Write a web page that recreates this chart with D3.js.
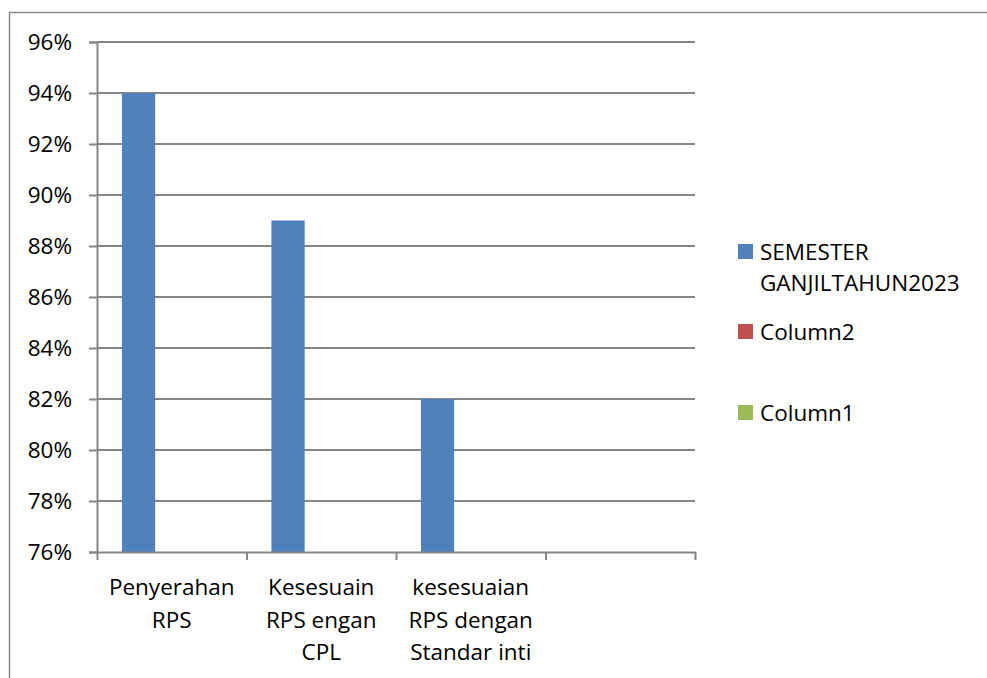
<!DOCTYPE html>
<html>
<head>
<meta charset="utf-8">
<script src="https://cdn.jsdelivr.net/npm/d3@7"></script>
<style>
  html, body { margin: 0; padding: 0; background: #fff; }
  svg { display: block; font-family: "Open Sans", "Noto Sans", sans-serif; }
</style>
</head>
<body>
<div id="chart"></div>
<script>
// categories (4th slot is empty in the source)
var categories = [
  ["Penyerahan", "RPS"],
  ["Kesesuain", "RPS engan", "CPL"],
  ["kesesuaian", "RPS dengan", "Standar inti"],
  []
];
var seriesNames = ["SEMESTER GANJILTAHUN2023", "Column2", "Column1"];
var seriesLabels = [["SEMESTER", "GANJILTAHUN2023"], ["Column2"], ["Column1"]];
var seriesColors = ["#4F81BD", "#C0504D", "#9BBB59"];
// values per series, one per category (null = no data)
var semesterGanjil = [0.94, 0.89, 0.82, null];
var column2 = [null, null, null, null];
var column1 = [null, null, null, null];
var yTicks = [0.76, 0.78, 0.80, 0.82, 0.84, 0.86, 0.88, 0.90, 0.92, 0.94, 0.96];

var W = 987, H = 678;
var plotL = 97, plotR = 695, plotT = 42, plotB = 552;

var svg = d3.select("#chart").append("svg")
  .attr("width", W).attr("height", H);

// outer chart frame (runs off the right and bottom edges)
svg.append("rect")
  .attr("x", 9.5).attr("y", 12.5)
  .attr("width", W + 20).attr("height", H + 20)
  .attr("fill", "none").attr("stroke", "#8c8c8c").attr("stroke-width", 1.5);

var y = d3.scaleLinear().domain([0.76, 0.96]).range([plotB, plotT]);
var x = d3.scaleBand().domain(d3.range(categories.length))
  .range([plotL, plotR]).paddingInner(0).paddingOuter(0);
var xs = d3.scaleBand().domain(d3.range(seriesNames.length))
  .range([0, x.bandwidth()]).paddingInner(0).paddingOuter(0.75);
var xEdge = d3.scaleLinear().domain([0, categories.length]).range([plotL, plotR]);

// gridlines
svg.append("g").selectAll("line")
  .data(yTicks.slice(1))
  .enter().append("line")
  .attr("x1", plotL).attr("x2", plotR)
  .attr("y1", function (d) { return y(d); })
  .attr("y2", function (d) { return y(d); })
  .attr("stroke", "#868686").attr("stroke-width", 2);

// bars
var allSeries = [semesterGanjil, column2, column1];
allSeries.forEach(function (vals, s) {
  svg.append("g").selectAll("rect")
    .data(vals.map(function (v, i) { return { i: i, v: v }; })
      .filter(function (d) { return d.v != null; }))
    .enter().append("rect")
    .attr("x", function (d) { return x(d.i) + xs(s); })
    .attr("width", xs.bandwidth())
    .attr("y", function (d) { return y(d.v); })
    .attr("height", function (d) { return plotB - y(d.v); })
    .attr("fill", seriesColors[s]);
});

// y axis
var yAxis = svg.append("g")
  .attr("transform", "translate(" + plotL + ",0)")
  .call(d3.axisLeft(y).tickValues(yTicks).tickFormat(d3.format(".0%"))
    .tickSize(8).tickPadding(17));
yAxis.select(".domain").attr("stroke", "#868686").attr("stroke-width", 2);
yAxis.selectAll(".tick line").attr("stroke", "#868686").attr("stroke-width", 2);
yAxis.selectAll(".tick text")
  .attr("font-size", "22.5px").attr("fill", "#000")
  .attr("font-family", "'Open Sans', sans-serif");

// x axis (ticks at category boundaries)
var xAxis = svg.append("g")
  .attr("transform", "translate(0," + plotB + ")")
  .call(d3.axisBottom(xEdge).tickValues(d3.range(categories.length + 1))
    .tickFormat("").tickSize(8).tickSizeOuter(0));
xAxis.select(".domain").attr("stroke", "#868686").attr("stroke-width", 2);
xAxis.selectAll(".tick line").attr("stroke", "#868686").attr("stroke-width", 2);

// category labels
svg.append("g").selectAll("text")
  .data(categories)
  .enter().append("text")
  .attr("x", function (d, i) { return x(i) + x.bandwidth() / 2; })
  .attr("y", 595)
  .attr("text-anchor", "middle")
  .attr("font-size", "22.5px")
  .attr("fill", "#000")
  .each(function (d) {
    var t = d3.select(this);
    d.forEach(function (line, k) {
      t.append("tspan")
        .attr("x", t.attr("x"))
        .attr("dy", k === 0 ? 0 : 32.5)
        .text(line);
    });
  });

// legend
var legendY = [244, 324, 405];
var legend = svg.append("g").selectAll("g")
  .data(seriesLabels)
  .enter().append("g")
  .attr("transform", function (d, i) { return "translate(738," + legendY[i] + ")"; });
legend.append("rect")
  .attr("width", 15).attr("height", 15)
  .attr("fill", function (d, i) { return seriesColors[i]; });
legend.append("text")
  .attr("x", 22).attr("y", 16)
  .attr("font-size", "22.5px")
  .attr("fill", "#000")
  .each(function (d) {
    var t = d3.select(this);
    d.forEach(function (line, k) {
      t.append("tspan").attr("x", 22).attr("dy", k === 0 ? 0 : 31).text(line);
    });
  });
</script>
</body>
</html>
